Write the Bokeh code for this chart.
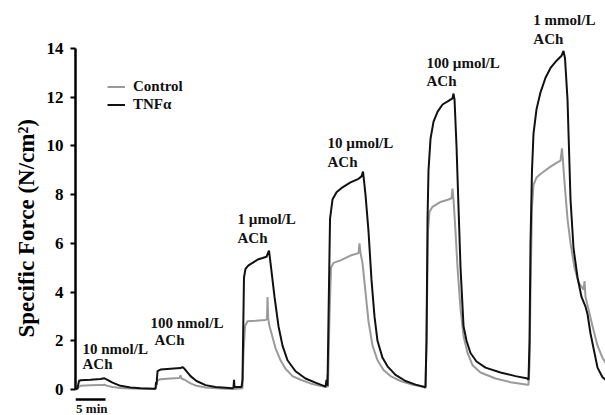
from bokeh.plotting import figure
from bokeh.models import Range1d, FixedTicker, Legend, LegendItem, ColumnDataSource, Title
from bokeh.core.properties import value
from bokeh.embed import file_html
from bokeh.resources import INLINE

# ---- data (time in minutes, specific force in N/cm^2) ----
tnf_time = [0.00, 0.33, 0.58, 0.83, 2.50, 4.17, 4.83, 5.17, 6.17, 7.50, 9.17, 10.83, 13.17, 13.33, 13.42, 13.50,
            13.67, 14.17, 15.83, 17.50, 17.83, 18.17, 19.17, 20.17, 21.67, 23.33, 26.17, 26.33, 26.42, 26.50,
            27.67, 27.83, 28.08, 28.33, 28.83, 29.50, 30.50, 31.17, 31.83, 32.25, 32.50, 33.17, 33.83, 34.50,
            35.33, 36.67, 38.33, 40.00, 41.67, 41.83, 42.00, 42.17, 42.42, 42.83, 43.50, 44.50, 45.83, 47.17,
            47.67, 47.92, 48.33, 48.83, 49.33, 49.83, 50.33, 51.17, 52.00, 53.33, 55.00, 56.67, 58.17, 58.33,
            58.50, 58.67, 58.83, 59.17, 59.67, 60.33, 61.17, 62.17, 62.83, 63.00, 63.17, 63.50, 63.83, 64.17,
            64.67, 65.17, 65.83, 66.83, 68.33, 70.83, 73.33, 75.33, 75.50, 75.67, 75.83, 76.08, 76.33, 76.83,
            77.50, 78.33, 79.17, 80.17, 81.00, 81.33, 81.58, 82.00, 82.50, 83.00, 83.67, 84.33, 85.00, 85.33,
            85.83, 87.00, 87.83, 88.33]
tnf_force = [0.02, 0.05, 0.35, 0.38, 0.40, 0.43, 0.46, 0.42, 0.28, 0.15, 0.08, 0.05, 0.03, 0.03, 0.30, 0.20,
             0.75, 0.82, 0.85, 0.88, 0.92, 0.85, 0.55, 0.35, 0.18, 0.10, 0.05, 0.08, 0.40, 0.10,
             0.10, 0.40, 4.60, 4.95, 5.10, 5.20, 5.35, 5.40, 5.45, 5.70, 5.20, 3.80, 2.60, 1.80,
             1.20, 0.75, 0.45, 0.28, 0.12, 0.40, 0.15, 3.00, 7.00, 7.80, 8.10, 8.30, 8.50, 8.65,
             8.75, 8.95, 8.00, 6.50, 4.50, 3.00, 2.00, 1.30, 0.95, 0.60, 0.35, 0.20, 0.10, 0.10,
             2.00, 7.00, 9.00, 10.30, 11.00, 11.40, 11.70, 11.85, 11.95, 12.15, 11.90, 10.00, 7.50, 5.00,
             2.60, 2.00, 1.50, 1.15, 0.90, 0.70, 0.55, 0.45, 0.40, 2.00, 6.00, 9.00, 10.50, 11.50,
             12.20, 12.80, 13.20, 13.50, 13.70, 13.90, 13.60, 11.90, 7.80, 5.80, 4.60, 3.80, 3.40, 3.10,
             2.30, 0.90, 0.50, 0.40]

ctrl_time = [0.00, 0.33, 0.58, 0.83, 2.50, 4.17, 4.83, 5.17, 6.17, 7.50, 9.17, 13.33, 13.42, 13.67, 14.17,
             15.83, 17.33, 17.50, 17.67, 18.17, 19.17, 20.17, 21.67, 24.17, 26.33, 27.83, 28.00, 28.25, 28.67,
             30.00, 31.67, 31.92, 32.00, 32.12, 32.33, 32.67, 33.33, 34.17, 35.00, 36.17, 37.50, 39.17, 41.67,
             41.92, 42.00, 42.08, 42.33, 42.58, 43.00, 44.17, 45.83, 47.17, 47.33, 47.50, 47.83, 48.33, 48.83,
             49.50, 50.33, 51.33, 52.50, 54.17, 55.83, 58.17, 58.33, 58.50, 58.75, 59.00, 59.50, 60.83, 62.17,
             62.67, 62.83, 63.00, 63.33, 63.67, 64.17, 64.67, 65.33, 66.17, 67.50, 70.00, 72.50, 75.33, 75.50,
             75.67, 75.83, 76.08, 76.33, 76.83, 77.50, 78.33, 79.17, 80.17, 80.83, 81.08, 81.25, 81.50, 82.00,
             82.50, 83.17, 83.83, 84.67, 84.83, 85.00, 85.50, 86.17, 87.00, 87.83, 88.33]
ctrl_force = [0.00, 0.02, 0.12, 0.15, 0.17, 0.18, 0.20, 0.16, 0.10, 0.06, 0.04, 0.02, 0.10, 0.38, 0.42,
              0.45, 0.47, 0.58, 0.45, 0.40, 0.25, 0.15, 0.08, 0.04, 0.02, 0.05, 1.50, 2.60, 2.80,
              2.82, 2.85, 2.90, 3.80, 2.90, 2.60, 2.30, 1.70, 1.20, 0.85, 0.55, 0.40, 0.25, 0.10,
              0.10, 0.60, 0.10, 3.00, 5.00, 5.20, 5.30, 5.50, 5.60, 6.00, 5.60, 5.20, 4.00, 2.80,
              1.80, 1.20, 0.80, 0.55, 0.35, 0.22, 0.10, 0.05, 2.00, 6.50, 7.30, 7.50, 7.70, 7.80,
              7.85, 8.25, 7.80, 6.50, 5.00, 3.30, 2.20, 1.50, 1.00, 0.70, 0.45, 0.30, 0.20, 0.20,
              1.00, 4.00, 7.50, 8.40, 8.70, 8.85, 9.00, 9.15, 9.30, 9.40, 9.90, 9.35, 8.50, 7.00,
              6.00, 5.00, 4.40, 4.10, 4.45, 3.80, 3.30, 2.60, 1.80, 1.30, 1.10]

dose_labels = ["10 nmol/L", "100 nmol/L", "1 \u00b5mol/L", "10 \u00b5mol/L", "100 \u00b5mol/L", "1 mmol/L"]
dose_label_time = [1.17, 12.5, 27.0, 42.0, 58.5, 76.3]
dose_label_force = [1.68, 2.71, 7.02, 10.10, 13.42, 15.15]
ach_label_time = [1.17, 13.17, 27.0, 42.0, 58.5, 76.3]
ach_label_force = [1.03, 2.05, 6.24, 9.32, 12.68, 14.40]

y_ticks = [0, 2, 4, 6, 8, 10, 12, 14]
scale_bar_time = [0, 5]
scale_bar_force = [-0.41, -0.41]
scale_label_time = [0.1]
scale_label_force = [-0.80]

SERIF = "Liberation Serif"

p = figure(width=605, height=415, output_backend="svg", toolbar_location=None,
           x_axis_type=None, x_range=Range1d(0, 88.33), y_range=Range1d(-1.067, 15.97),
           min_border_left=75, min_border_right=0, min_border_top=0, min_border_bottom=0)
p.outline_line_color = None
p.grid.visible = False
p.background_fill_color = "white"
p.border_fill_color = "white"

ctrl = p.line(ctrl_time, ctrl_force, line_color="#9a9a9a", line_width=2)
tnf = p.line(tnf_time, tnf_force, line_color="#111111", line_width=2)

ax = p.yaxis[0]
ax.ticker = FixedTicker(ticks=y_ticks)
ax.bounds = (0, 14)
ax.axis_line_width = 2.5
ax.axis_line_color = "black"
ax.major_tick_line_width = 2
ax.major_tick_out = 5
ax.major_tick_in = 0
ax.minor_tick_line_color = None
ax.major_label_text_font = SERIF
ax.major_label_text_font_style = "bold"
ax.major_label_text_font_size = "17px"
ax.major_label_text_color = "black"
ax.major_label_standoff = 7

ytitle = Title(text="Specific Force (N/cm\u00b2)", align="left", offset=78,
               text_font=SERIF, text_font_style="bold", text_font_size="23px",
               text_color="black", standoff=10)
p.add_layout(ytitle, "left")

src = ColumnDataSource(dict(x=dose_label_time, y=dose_label_force, t=dose_labels))
p.text(x="x", y="y", text="t", source=src, text_font=value(SERIF), text_font_style="bold",
       text_font_size="15px", text_baseline="middle", text_align="left", text_color="#111111")
src2 = ColumnDataSource(dict(x=ach_label_time, y=ach_label_force, t=["ACh"] * len(ach_label_time)))
p.text(x="x", y="y", text="t", source=src2, text_font=value(SERIF), text_font_style="bold",
       text_font_size="15px", text_baseline="middle", text_align="left", text_color="#111111")

p.line(scale_bar_time, scale_bar_force, line_color="black", line_width=2.5)
p.text(x=scale_label_time, y=scale_label_force, text=["5 min"], text_font=value(SERIF),
       text_font_style="bold", text_font_size="13px", text_baseline="middle", text_color="#111111")

legend = Legend(items=[LegendItem(label="Control", renderers=[ctrl]),
                       LegendItem(label="TNF\u03b1", renderers=[tnf])],
                location=(32, 302), orientation="vertical")
legend.border_line_color = None
legend.background_fill_alpha = 0
legend.padding = 0
legend.margin = 0
legend.spacing = 1
legend.glyph_width = 18
legend.glyph_height = 15
legend.label_height = 15
legend.label_standoff = 8
legend.label_text_font = SERIF
legend.label_text_font_style = "bold"
legend.label_text_font_size = "15px"
legend.label_text_color = "#111111"
p.add_layout(legend)

open("out.html", "w").write(file_html(p, INLINE))
